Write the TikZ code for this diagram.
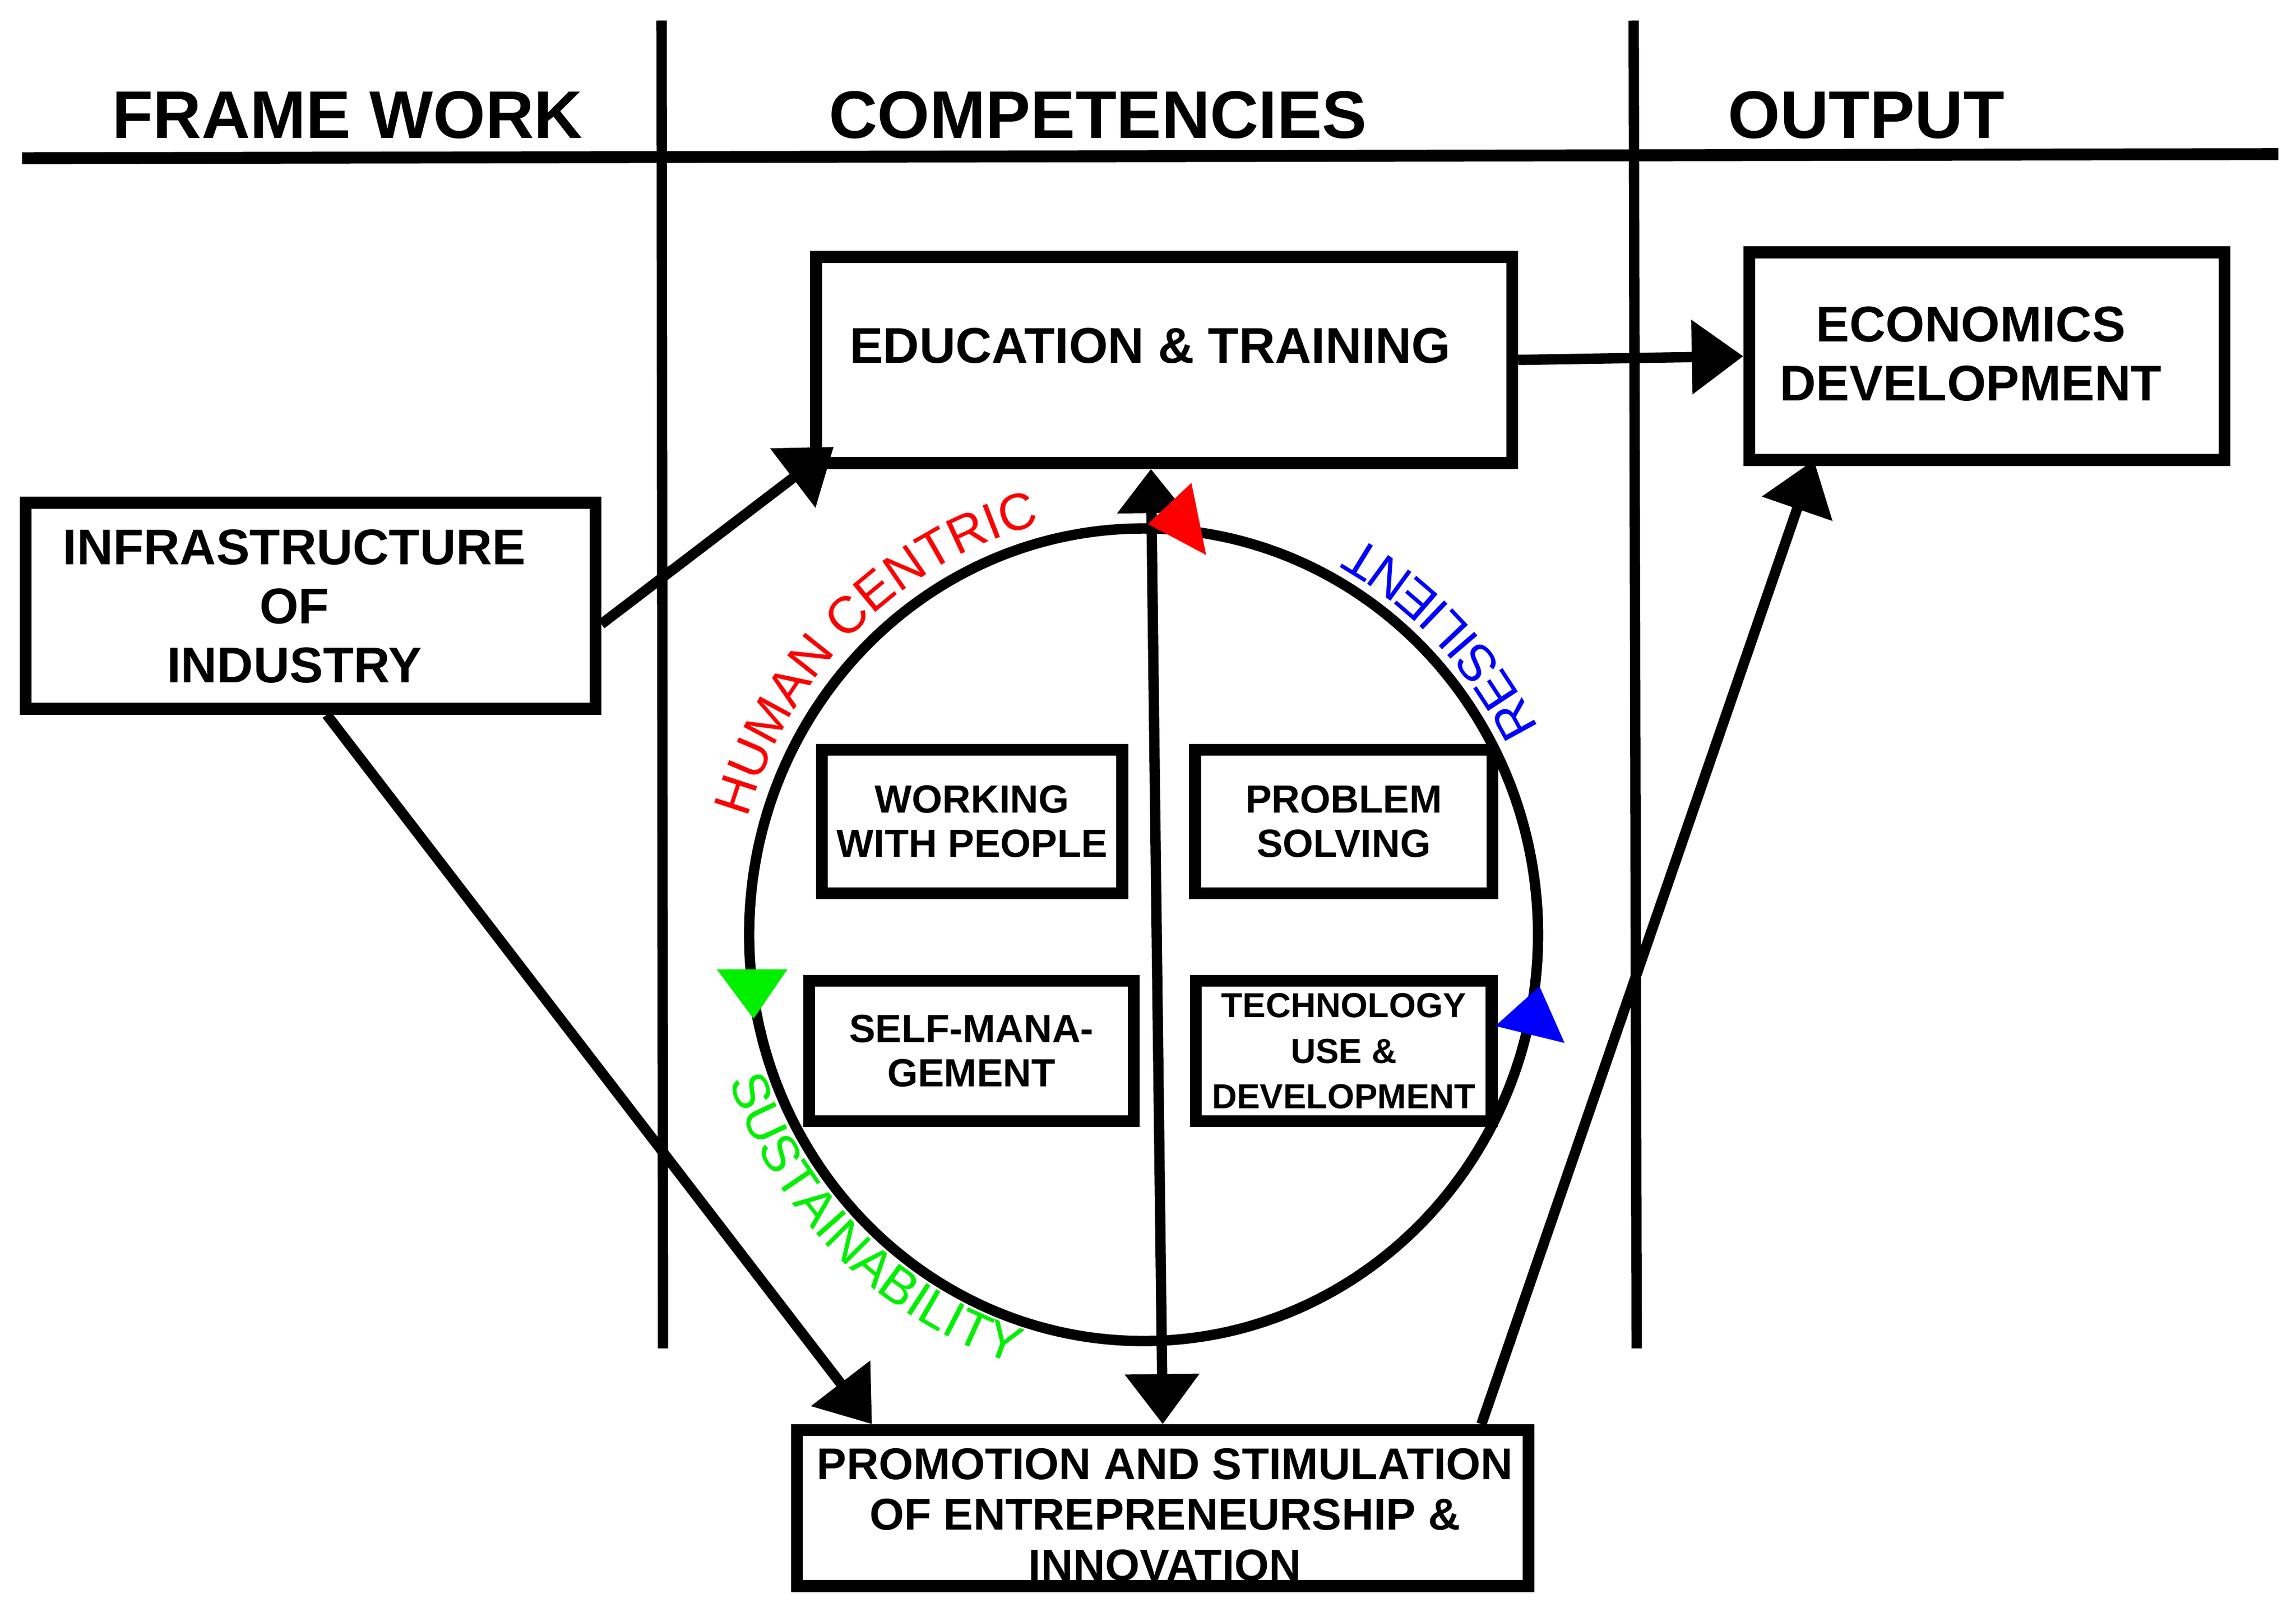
\documentclass[tikz,border=0pt]{standalone}
\usepackage{fontspec}
\setmainfont{Liberation Sans}
\usetikzlibrary{arrows.meta}
\usetikzlibrary{decorations.text}
\usetikzlibrary{positioning}
\definecolor{hcred}{RGB}{255,0,0}
\definecolor{rsblue}{RGB}{0,0,255}
\definecolor{sugreen}{RGB}{0,240,0}
\newcommand{\circfont}{\fontsize{10}{12}\selectfont}

\begin{document}
\begin{tikzpicture}[x=0.1mm, y=0.1mm,
    heading/.style={anchor=base, font=\bfseries\fontsize{13}{15}\selectfont},
    boxline/.style={draw, line width=2.3pt, inner sep=0pt},
    boxtext/.style={align=center, inner sep=0pt, font=\bfseries\fontsize{9.7}{11.4}\selectfont},
    smallbox/.style={boxline, align=center, font=\bfseries\fontsize{7.6}{8.5}\selectfont},
    arrowline/.style={line width=2pt, -{Triangle[length=3.5mm, width=4.9mm]}},
    ]
    \useasboundingbox (0,0) rectangle (1560,1095);

    % column heads
    \draw[line width=2.3pt] (15,987.5) -- (1548,990.3);
    \draw[line width=2pt] (449.5,1081) -- (450.5,179);
    \draw[line width=2pt] (1110,1081) -- (1112,179);
    \node[heading] (framework) at (236,1001) {FRAME WORK};
    \node[heading] (competencies) at (746,1001) {COMPETENCIES};
    \node[heading] (output) at (1268,1001) {OUTPUT};

    % big boxes
    \node[boxline, minimum width=47.3mm, minimum height=14mm] (edu) at (791,850.5) {};
    \node[boxtext] (edutext) at (781.5,860.25) {EDUCATION \& TRAINING};
    \node[boxline, minimum width=32.3mm, minimum height=14.1mm] (econ) at (1350,853) {};
    \node[boxtext] (econtext) at (1339,854.5) {ECONOMICS\\DEVELOPMENT};
    \node[boxline, minimum width=38.7mm, minimum height=14mm] (infra) at (211,683.5) {};
    \node[boxtext] (infratext) at (200,683) {INFRASTRUCTURE\\OF\\INDUSTRY};
    \node[boxtext, font=\bfseries\fontsize{8.6}{9.8}\selectfont] (promtext) at (791.5,66)
        {PROMOTION AND STIMULATION\\OF ENTREPRENEURSHIP \&\\INNOVATION};
    \node[boxline, minimum width=49.7mm, minimum height=10.6mm] (prom) at (790,70.5) {};

    % competencies
    \node[smallbox, minimum width=20.4mm, minimum height=9.75mm] (people) at (660.5,537) {WORKING\\WITH PEOPLE};
    \node[smallbox, minimum width=20.2mm, minimum height=9.75mm] (problem) at (913,537) {PROBLEM\\SOLVING};
    \node[smallbox, minimum width=22.05mm, minimum height=9.55mm] (selfman) at (660,381) {SELF-MANA-\\GEMENT};
    \node[smallbox, minimum width=20.1mm, minimum height=9.55mm,
        font=\bfseries\fontsize{6.7}{8.8}\selectfont] (techuse) at (913,381) {TECHNOLOGY\\USE \&\\DEVELOPMENT};

    % links
    \draw[line width=2pt, {Triangle[length=3mm, width=4.5mm]}-{Triangle[length=3.4mm, width=4.9mm]}]
        ([xshift=-0.9mm]edu.south) -- (prom.north);
    \draw[arrowline] ([yshift=-1.25mm]infra.east) -- ([xshift=1.6mm,yshift=1.5mm]edu.south west);
    \draw[arrowline] (edu.east) -- (econ.west);
    \draw[arrowline] ([xshift=1.1mm]infra.south) -- ([xshift=5.5mm]prom.north west);
    \draw[arrowline] ([xshift=-3.6mm]prom.north east) -- ([xshift=4.8mm,yshift=0.4mm]econ.south west);

    % cycle
    \draw[line width=2pt] (777,460) ellipse [x radius=268, y radius=276];
    \fill[hcred] (780,739) -- (809.5,767) -- (819.5,718) -- cycle;
    \fill[sugreen] (512,403) -- (487,436.5) -- (535,436.5) -- cycle;
    \fill[rsblue] (1046,425) -- (1016,398) -- (1063,386.5) -- cycle;
    \path[decorate, decoration={text along path, text align=left, text color=hcred,
        text={|\circfont|HUMAN CENTRIC}}]
        (777,460) ++(164:280 and 288) arc[start angle=164, end angle=95, x radius=280, y radius=288];
    \path[decorate, decoration={text along path, text align=left, text color=rsblue,
        text={|\circfont|RESILIENT}}]
        (777,460) ++(27:301 and 309) arc[start angle=27, end angle=75, x radius=301, y radius=309];
    \path[decorate, decoration={text along path, text align=left, text color=sugreen,
        text={|\circfont|SUSTAINABILITY}}]
        (777,460) ++(199:298 and 305) arc[start angle=199, end angle=262, x radius=298, y radius=305];
\end{tikzpicture}
\end{document}
